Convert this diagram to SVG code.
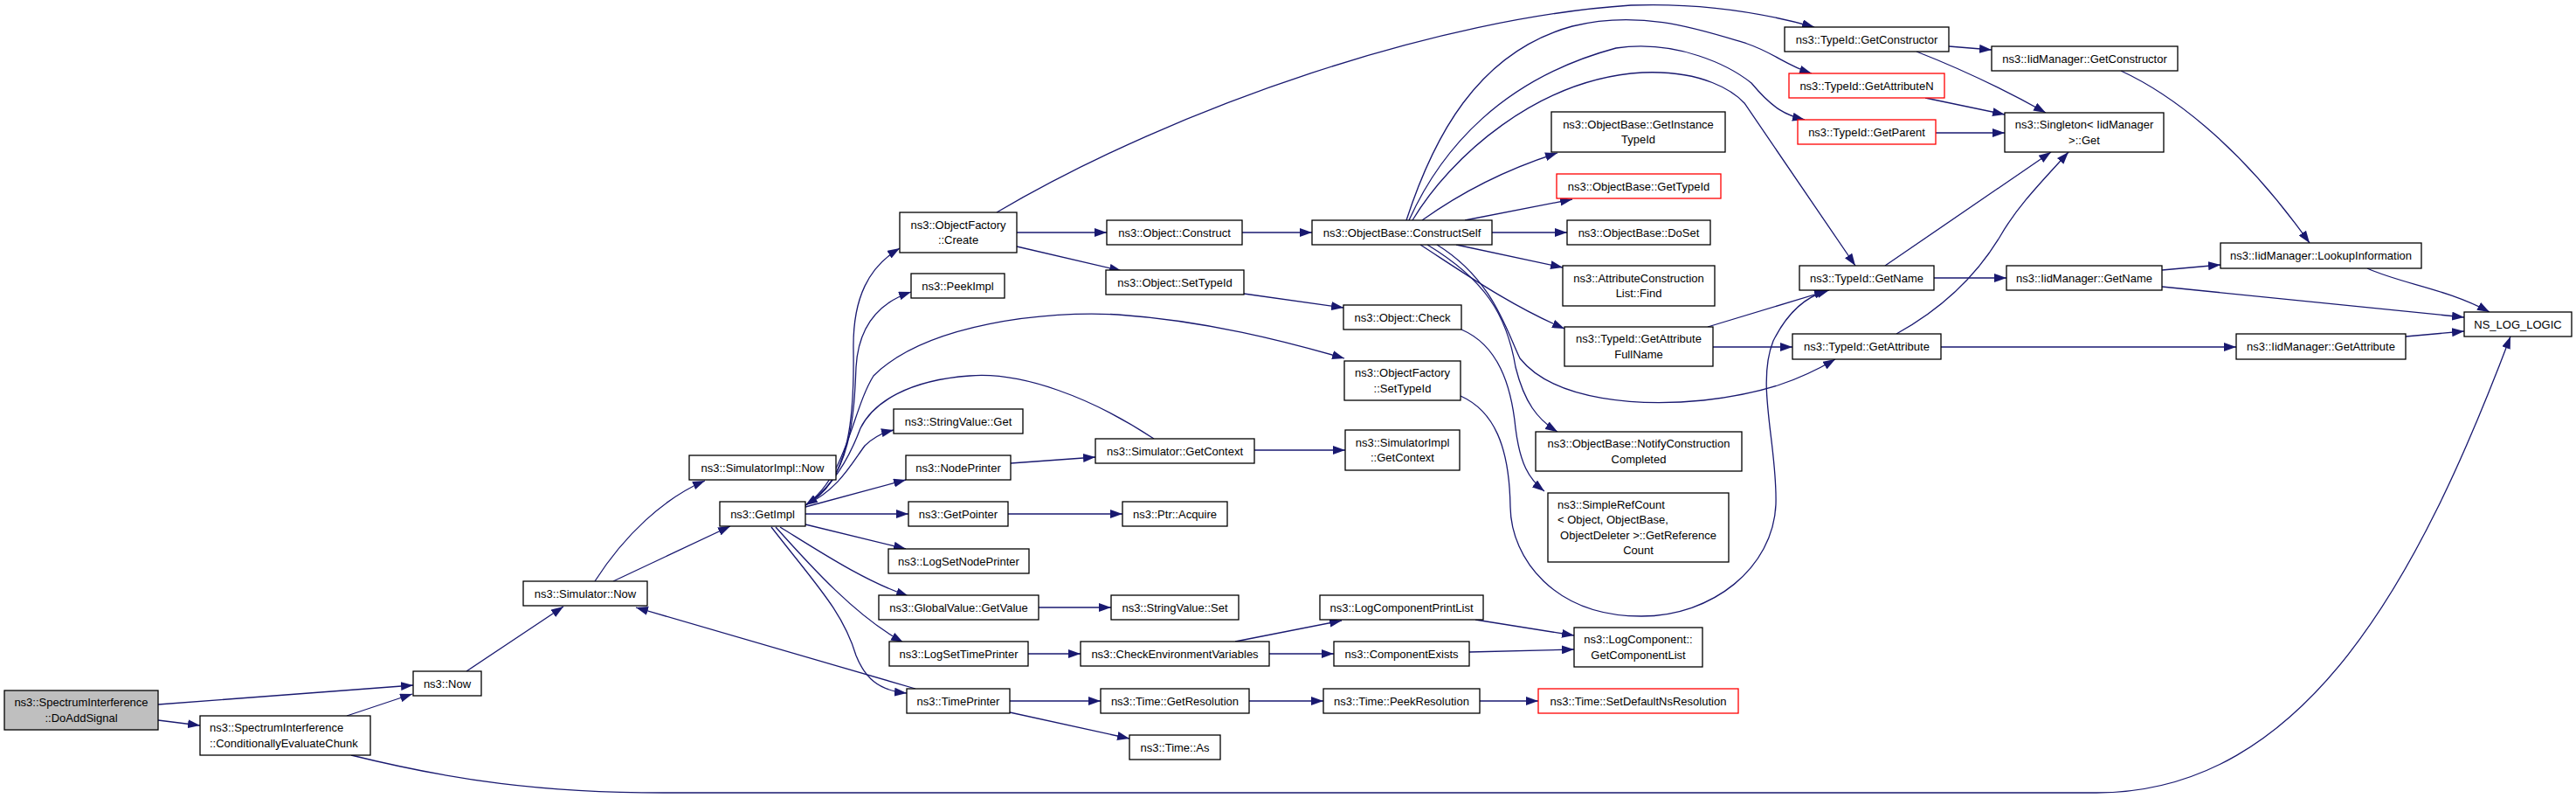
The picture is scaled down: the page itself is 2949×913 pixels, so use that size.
<svg xmlns="http://www.w3.org/2000/svg" width="2949" height="913" viewBox="0 0 2949 913">
<defs>
<marker id="a" viewBox="0 0 14 10" refX="14" refY="5" markerWidth="14" markerHeight="10" markerUnits="userSpaceOnUse" orient="auto">
<path d="M0,0 L14,5 L0,10 z" fill="#191970"/>
</marker>
</defs>
<style>
.node rect{fill:#fff;stroke:#000;stroke-width:1.3}
.node.red rect{stroke:#f00}
.node.cur rect{fill:#bfbfbf}
text{font-family:"Liberation Sans",Arial,Helvetica,sans-serif;font-size:13px;fill:#000;text-anchor:middle}
text.l{text-anchor:start}
#edges path{fill:none;stroke:#191970;stroke-width:1.3;marker-end:url(#a)}
</style>
<rect width="2949" height="913" fill="#fff"/>
<g id="edges">
<path d="M181,806 L473,784"/>
<path d="M181,824 L229,830"/>
<path d="M397,819 L472,794"/>
<path d="M402,864 C520,893 620,907 760,907 L2400,907 C2640,907 2770,660 2874,385"/>
<path d="M534,768 L645,694"/>
<path d="M681,665 C715,612 760,570 807,550"/>
<path d="M702,665 L836,602"/>
<path d="M1048,788 L728,695"/>
<path d="M922,578 C975,550 978,470 977,400 C976,340 995,305 1030,284"/>
<path d="M922,578 C975,550 978,470 980,420 C983,370 1010,345 1043,334"/>
<path d="M922,578 C960,560 975,530 990,510 C1000,500 1010,495 1023,492"/>
<path d="M922,578 C970,545 975,470 1000,430 C1060,370 1200,355 1280,360 C1380,367 1470,390 1539,410"/>
<path d="M1321,502 C1250,455 1170,425 1110,430 C1040,435 1000,460 985,490 C970,530 950,560 922,578"/>
<path d="M922,580 L1037,549"/>
<path d="M922,588 L1040,588"/>
<path d="M922,600 L1037,628"/>
<path d="M893,603 C940,632 990,665 1040,682"/>
<path d="M888,603 C930,650 980,705 1034,735"/>
<path d="M883,603 C935,670 965,700 980,750 C990,775 1005,790 1038,793"/>
<path d="M1164,266 L1267,266"/>
<path d="M1164,282 L1284,310"/>
<path d="M1141,243 C1350,120 1650,20 1867,6 C1950,3 2020,15 2077,31"/>
<path d="M1422,266 L1502,266"/>
<path d="M1708,266 L1794,266"/>
<path d="M1628,252 C1670,222 1720,195 1783,175"/>
<path d="M1677,252 L1800,228"/>
<path d="M1667,280 L1789,306"/>
<path d="M1626,280 C1680,315 1730,350 1791,376"/>
<path d="M1634,280 C1700,320 1725,360 1735,420 C1745,460 1760,480 1783,494"/>
<path d="M1645,280 C1710,320 1725,380 1740,410 C1780,460 1880,465 1950,458 C2020,450 2060,435 2101,411"/>
<path d="M1610,252 C1640,160 1690,60 1800,30 C1880,10 1950,35 2000,50 C2030,60 2045,75 2074,84"/>
<path d="M1613,252 C1650,170 1720,90 1850,55 C1920,45 1980,75 2005,95 C2030,125 2045,132 2066,137"/>
<path d="M1617,252 C1660,180 1760,90 1880,83 C1950,80 1985,105 1997,118 L2124,304"/>
<path d="M2231,53 L2280,57"/>
<path d="M2194,59 C2235,75 2290,100 2342,129"/>
<path d="M2204,112 L2295,131"/>
<path d="M2216,152 L2295,152"/>
<path d="M2428,81 C2480,105 2560,160 2644,278"/>
<path d="M2158,304 L2348,174"/>
<path d="M2171,382 C2220,355 2260,320 2290,270 C2310,235 2340,205 2368,174"/>
<path d="M2214,318 L2297,318"/>
<path d="M2475,309 L2542,303"/>
<path d="M2475,328 L2821,363"/>
<path d="M2710,307 C2750,325 2800,330 2850,357"/>
<path d="M2754,385 L2821,379"/>
<path d="M1955,374 L2094,332"/>
<path d="M1961,397 L2052,397"/>
<path d="M2222,397 L2560,397"/>
<path d="M1672,453 C1710,470 1728,510 1729,580 C1730,640 1780,705 1879,705 C1960,705 2030,650 2033,577 C2035,510 2010,440 2030,390 C2045,360 2065,340 2091,333"/>
<path d="M1424,336 L1538,352"/>
<path d="M1673,377 C1715,395 1730,440 1735,490 C1740,530 1750,548 1768,562"/>
<path d="M1436,515 L1540,515"/>
<path d="M1157,530 L1254,523"/>
<path d="M1154,588 L1285,588"/>
<path d="M1189,695 L1272,695"/>
<path d="M1177,748 L1237,748"/>
<path d="M1414,734 L1536,710"/>
<path d="M1453,748 L1527,748"/>
<path d="M1689,709 L1802,727"/>
<path d="M1682,746 L1802,743"/>
<path d="M1156,802 L1260,802"/>
<path d="M1156,815 L1293,845"/>
<path d="M1430,802 L1515,802"/>
<path d="M1694,802 L1761,802"/>
</g>
<g id="n1" class="node cur"><rect x="5" y="790" width="176" height="45"/><text x="93" y="808">ns3::SpectrumInterference</text><text x="93" y="826">::DoAddSignal</text></g>
<g id="n2" class="node"><rect x="229" y="819" width="195" height="45"/><text class="l" x="240" y="837">ns3::SpectrumInterference</text><text class="l" x="240" y="855">::ConditionallyEvaluateChunk</text></g>
<g id="n3" class="node"><rect x="473" y="768" width="78" height="28"/><text x="512" y="786.6">ns3::Now</text></g>
<g id="n4" class="node"><rect x="599" y="665" width="142" height="28"/><text x="670" y="683.6">ns3::Simulator::Now</text></g>
<g id="n5" class="node"><rect x="789" y="521" width="168" height="28"/><text x="873" y="539.6">ns3::SimulatorImpl::Now</text></g>
<g id="n6" class="node"><rect x="824" y="574" width="98" height="28"/><text x="873" y="592.6">ns3::GetImpl</text></g>
<g id="n7" class="node"><rect x="1030" y="243" width="134" height="46"/><text x="1097" y="262">ns3::ObjectFactory</text><text x="1097" y="279.3">::Create</text></g>
<g id="n8" class="node"><rect x="1043" y="313" width="107" height="28"/><text x="1096.5" y="331.6">ns3::PeekImpl</text></g>
<g id="n9" class="node"><rect x="1023" y="468" width="148" height="28"/><text x="1097" y="486.6">ns3::StringValue::Get</text></g>
<g id="n10" class="node"><rect x="1037" y="521" width="120" height="28"/><text x="1097" y="539.6">ns3::NodePrinter</text></g>
<g id="n11" class="node"><rect x="1040" y="574" width="114" height="28"/><text x="1097" y="592.6">ns3::GetPointer</text></g>
<g id="n12" class="node"><rect x="1017" y="628" width="161" height="28"/><text x="1097.5" y="646.6">ns3::LogSetNodePrinter</text></g>
<g id="n13" class="node"><rect x="1006" y="681" width="183" height="28"/><text x="1097.5" y="699.6">ns3::GlobalValue::GetValue</text></g>
<g id="n14" class="node"><rect x="1018" y="734" width="159" height="28"/><text x="1097.5" y="752.6">ns3::LogSetTimePrinter</text></g>
<g id="n15" class="node"><rect x="1038" y="788" width="118" height="28"/><text x="1097" y="806.6">ns3::TimePrinter</text></g>
<g id="n16" class="node"><rect x="1267" y="252" width="155" height="28"/><text x="1344.5" y="270.6">ns3::Object::Construct</text></g>
<g id="n17" class="node"><rect x="1266" y="309" width="158" height="28"/><text x="1345" y="327.6">ns3::Object::SetTypeId</text></g>
<g id="n18" class="node"><rect x="1254" y="502" width="182" height="28"/><text x="1345" y="520.6">ns3::Simulator::GetContext</text></g>
<g id="n19" class="node"><rect x="1285" y="574" width="120" height="28"/><text x="1345" y="592.6">ns3::Ptr::Acquire</text></g>
<g id="n20" class="node"><rect x="1272" y="681" width="146" height="28"/><text x="1345" y="699.6">ns3::StringValue::Set</text></g>
<g id="n21" class="node"><rect x="1237" y="734" width="216" height="28"/><text x="1345" y="752.6">ns3::CheckEnvironmentVariables</text></g>
<g id="n22" class="node"><rect x="1260" y="788" width="170" height="28"/><text x="1345" y="806.6">ns3::Time::GetResolution</text></g>
<g id="n23" class="node"><rect x="1293" y="841" width="104" height="28"/><text x="1345" y="859.6">ns3::Time::As</text></g>
<g id="n24" class="node"><rect x="1502" y="252" width="206" height="28"/><text x="1605" y="270.6">ns3::ObjectBase::ConstructSelf</text></g>
<g id="n25" class="node"><rect x="1538" y="349" width="135" height="28"/><text x="1605.5" y="367.6">ns3::Object::Check</text></g>
<g id="n26" class="node"><rect x="1539" y="413" width="133" height="45"/><text x="1605.5" y="431.4">ns3::ObjectFactory</text><text x="1605.5" y="448.8">::SetTypeId</text></g>
<g id="n27" class="node"><rect x="1540" y="492" width="131" height="46"/><text x="1605.5" y="510.9">ns3::SimulatorImpl</text><text x="1605.5" y="528.3">::GetContext</text></g>
<g id="n28" class="node"><rect x="1511" y="681" width="187" height="28"/><text x="1604.5" y="699.6">ns3::LogComponentPrintList</text></g>
<g id="n29" class="node"><rect x="1527" y="734" width="155" height="28"/><text x="1604.5" y="752.6">ns3::ComponentExists</text></g>
<g id="n30" class="node"><rect x="1515" y="788" width="179" height="28"/><text x="1604.5" y="806.6">ns3::Time::PeekResolution</text></g>
<g id="n31" class="node"><rect x="1776" y="128" width="199" height="46"/><text x="1875.5" y="146.9">ns3::ObjectBase::GetInstance</text><text x="1875.5" y="164.3">TypeId</text></g>
<g id="n32" class="node red"><rect x="1782" y="199" width="188" height="28"/><text x="1876" y="217.6">ns3::ObjectBase::GetTypeId</text></g>
<g id="n33" class="node"><rect x="1794" y="252" width="164" height="28"/><text x="1876" y="270.6">ns3::ObjectBase::DoSet</text></g>
<g id="n34" class="node"><rect x="1789" y="304" width="174" height="46"/><text x="1876" y="322.9">ns3::AttributeConstruction</text><text x="1876" y="340.3">List::Find</text></g>
<g id="n35" class="node"><rect x="1791" y="374" width="170" height="45"/><text x="1876" y="392.4">ns3::TypeId::GetAttribute</text><text x="1876" y="409.8">FullName</text></g>
<g id="n36" class="node"><rect x="1758" y="494" width="236" height="45"/><text x="1876" y="512.4">ns3::ObjectBase::NotifyConstruction</text><text x="1876" y="529.8">Completed</text></g>
<g id="n37" class="node"><rect x="1772" y="564" width="207" height="79"/><text class="l" x="1783" y="581.9">ns3::SimpleRefCount</text><text class="l" x="1783" y="599.4">&lt; Object, ObjectBase,</text><text x="1875.5" y="616.9">ObjectDeleter &gt;::GetReference</text><text x="1875.5" y="634.4">Count</text></g>
<g id="n38" class="node"><rect x="1802" y="718" width="147" height="45"/><text x="1875.5" y="736.4">ns3::LogComponent::</text><text x="1875.5" y="753.8">GetComponentList</text></g>
<g id="n39" class="node red"><rect x="1761" y="788" width="229" height="28"/><text x="1875.5" y="806.6">ns3::Time::SetDefaultNsResolution</text></g>
<g id="n40" class="node"><rect x="2043" y="31" width="188" height="28"/><text x="2137" y="49.6">ns3::TypeId::GetConstructor</text></g>
<g id="n41" class="node red"><rect x="2048" y="84" width="178" height="28"/><text x="2137" y="102.6">ns3::TypeId::GetAttributeN</text></g>
<g id="n42" class="node red"><rect x="2058" y="137" width="158" height="28"/><text x="2137" y="155.6">ns3::TypeId::GetParent</text></g>
<g id="n43" class="node"><rect x="2060" y="304" width="154" height="28"/><text x="2137" y="322.6">ns3::TypeId::GetName</text></g>
<g id="n44" class="node"><rect x="2052" y="382" width="170" height="29"/><text x="2137" y="401.1">ns3::TypeId::GetAttribute</text></g>
<g id="n45" class="node"><rect x="2280" y="53" width="213" height="28"/><text x="2386.5" y="71.6">ns3::IidManager::GetConstructor</text></g>
<g id="n46" class="node"><rect x="2295" y="129" width="182" height="45"/><text x="2386" y="147.4">ns3::Singleton&lt; IidManager</text><text x="2386" y="164.8">&gt;::Get</text></g>
<g id="n47" class="node"><rect x="2297" y="304" width="178" height="28"/><text x="2386" y="322.6">ns3::IidManager::GetName</text></g>
<g id="n48" class="node"><rect x="2542" y="278" width="230" height="29"/><text x="2657" y="297.1">ns3::IidManager::LookupInformation</text></g>
<g id="n49" class="node"><rect x="2560" y="382" width="194" height="29"/><text x="2657" y="401.1">ns3::IidManager::GetAttribute</text></g>
<g id="n50" class="node"><rect x="2821" y="357" width="123" height="28"/><text x="2882.5" y="375.6">NS_LOG_LOGIC</text></g>
</svg>
